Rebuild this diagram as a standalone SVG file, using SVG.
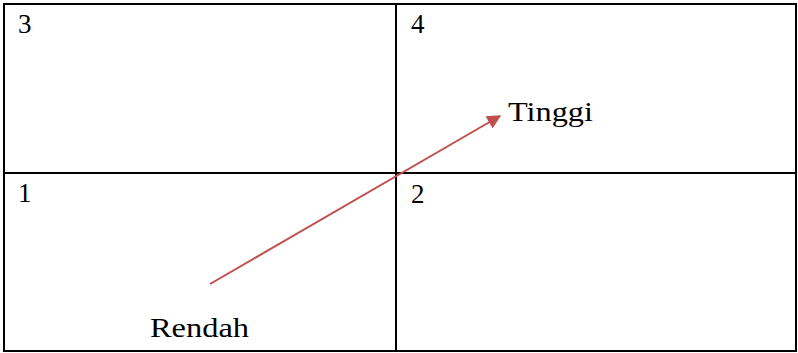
<svg xmlns="http://www.w3.org/2000/svg" width="798" height="353" viewBox="0 0 798 353">
<style>
.t{font-family:"Liberation Serif","Times New Roman",serif;font-size:27px;fill:#000}
.g{stroke:#000;stroke-width:2;fill:none}
</style>
<defs>
<marker id="ah" viewBox="0 0 10 10" refX="9" refY="5" markerWidth="16" markerHeight="14" markerUnits="userSpaceOnUse" orient="auto">
<path d="M0,0 L10,5 L0,10 z" fill="#C0504D"/>
</marker>
</defs>
<g id="grid">
<rect class="g" x="4" y="4" width="792" height="347"/>
<line class="g" x1="396" y1="4" x2="396" y2="351"/>
<line class="g" x1="4" y1="173" x2="796" y2="173"/>
</g>
<g id="cell3"><text class="t" x="18" y="33">3</text></g>
<g id="cell4"><text class="t" x="411" y="33">4</text></g>
<g id="cell1"><text class="t" x="18" y="202">1</text></g>
<g id="cell2"><text class="t" x="411" y="203">2</text></g>
<g id="connectors">
<line x1="210" y1="284" x2="500" y2="116" stroke="#C0504D" stroke-width="2" marker-end="url(#ah)"/>
</g>
<g id="tinggi"><text class="t" x="508" y="121" textLength="85" lengthAdjust="spacingAndGlyphs">Tinggi</text></g>
<g id="rendah"><text class="t" x="150" y="337" textLength="99" lengthAdjust="spacingAndGlyphs">Rendah</text></g>
</svg>
